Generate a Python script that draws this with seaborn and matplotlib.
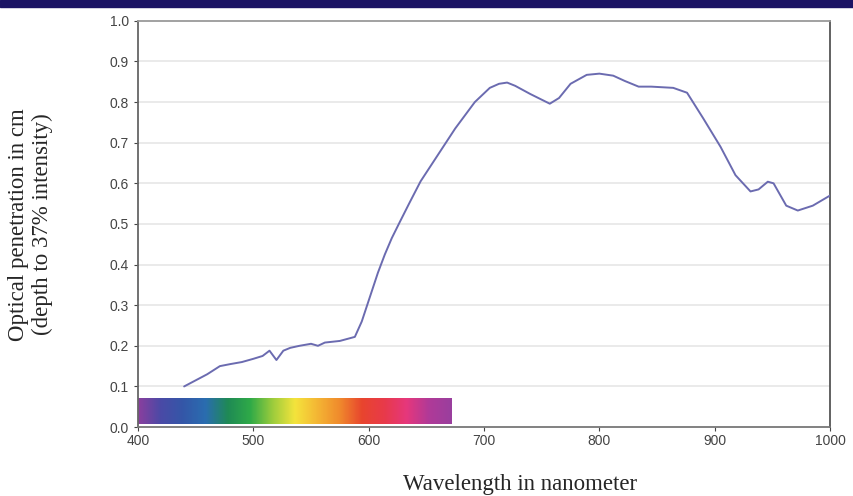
import numpy as np
import pandas as pd
import matplotlib
matplotlib.use("Agg")
import matplotlib.pyplot as plt
import seaborn as sns
from matplotlib.colors import LinearSegmentedColormap
from matplotlib.patches import Rectangle

# Optical penetration depth vs wavelength
wavelength = [440, 460, 471, 480, 490, 500, 508, 514, 520, 526, 532, 540, 550, 556,
              562, 575, 588, 594, 601, 608, 614, 620, 627, 635, 645, 660, 675, 692,
              705, 713, 720, 727, 740, 757, 765, 775, 789, 800, 812, 822, 834, 845,
              864, 876, 890, 905, 918, 931, 938, 946, 951, 962, 972, 985, 1000]
penetration = [0.100, 0.130, 0.150, 0.155, 0.160, 0.168, 0.175, 0.188, 0.165, 0.188, 0.195,
               0.200, 0.205, 0.200, 0.208, 0.212, 0.222, 0.260, 0.320, 0.380, 0.425, 0.465,
               0.505, 0.550, 0.605, 0.670, 0.735, 0.800, 0.835, 0.845, 0.848, 0.840, 0.820,
               0.796, 0.810, 0.845, 0.867, 0.870, 0.865, 0.852, 0.838, 0.838, 0.835, 0.823,
               0.760, 0.690, 0.620, 0.580, 0.585, 0.604, 0.600, 0.545, 0.533, 0.545, 0.570]

x_ticks = [400, 500, 600, 700, 800, 900, 1000]
y_ticks = [0.0, 0.1, 0.2, 0.3, 0.4, 0.5, 0.6, 0.7, 0.8, 0.9, 1.0]

# visible spectrum strip
spectrum_colors = ["#8a3f9e", "#4a4aa6", "#3457a8", "#2a6db0", "#1f8a55", "#2faa48",
                   "#9ccc3c", "#f4e43c", "#f4b634", "#f08a2c", "#e8452e", "#e83a4a",
                   "#e6377c", "#b03a98", "#9a3f9e"]
spectrum_start, spectrum_end = 400, 672

sns.set_style("white")
plt.rcParams["font.family"] = ["Liberation Sans", "DejaVu Sans"]
serif = ["Liberation Serif", "DejaVu Serif"]

df = pd.DataFrame({"wavelength": wavelength, "penetration": penetration})

fig = plt.figure(figsize=(8.54, 4.96), dpi=100)
ax = fig.add_axes([0.1616, 0.139, 0.8104, 0.819])

# dark band across the top of the figure
fig.patches.append(Rectangle((0, 0.986), 1, 0.014, transform=fig.transFigure,
                             color="#1b1464", zorder=0))

for y in y_ticks[1:-1]:
    ax.axhline(y, color="#e6e6e6", lw=1.2, zorder=0)

cmap = LinearSegmentedColormap.from_list("spectrum", spectrum_colors)
ax.imshow(np.linspace(0, 1, 256).reshape(1, -1), cmap=cmap, aspect="auto",
          extent=(spectrum_start, spectrum_end, 0.008, 0.071), zorder=1)

sns.lineplot(data=df, x="wavelength", y="penetration", ax=ax,
             color="#6b6bb0", lw=1.4, zorder=3)

ax.set_xlim(400, 1000)
ax.set_ylim(0, 1.0)
ax.set_xticks(x_ticks)
ax.set_yticks(y_ticks)
ax.set_yticklabels([f"{v:.1f}" for v in y_ticks])
ax.tick_params(axis="both", labelsize=10, colors="#444444", length=3, width=0.8,
               direction="out", left=True, bottom=True)
ax.tick_params(axis="x", pad=2)

for side, col in [("top", "#9a9a9a"), ("left", "#666666"),
                  ("right", "#555555"), ("bottom", "#777777")]:
    ax.spines[side].set_visible(True)
    ax.spines[side].set_color(col)
    ax.spines[side].set_linewidth(1.3)

ax.set_xlabel("")
ax.set_ylabel("")
fig.text(0.609, 0.002, "Wavelength in nanometer", ha="center", va="bottom",
         fontsize=16.5, family=serif)
fig.text(0.036, 0.548, "Optical penetration in cm\n(depth to 37% intensity)",
         ha="center", va="center", rotation=90, fontsize=16.5, linespacing=1.15,
         family=serif)

fig.savefig("out.png", dpi=100, facecolor="white")
